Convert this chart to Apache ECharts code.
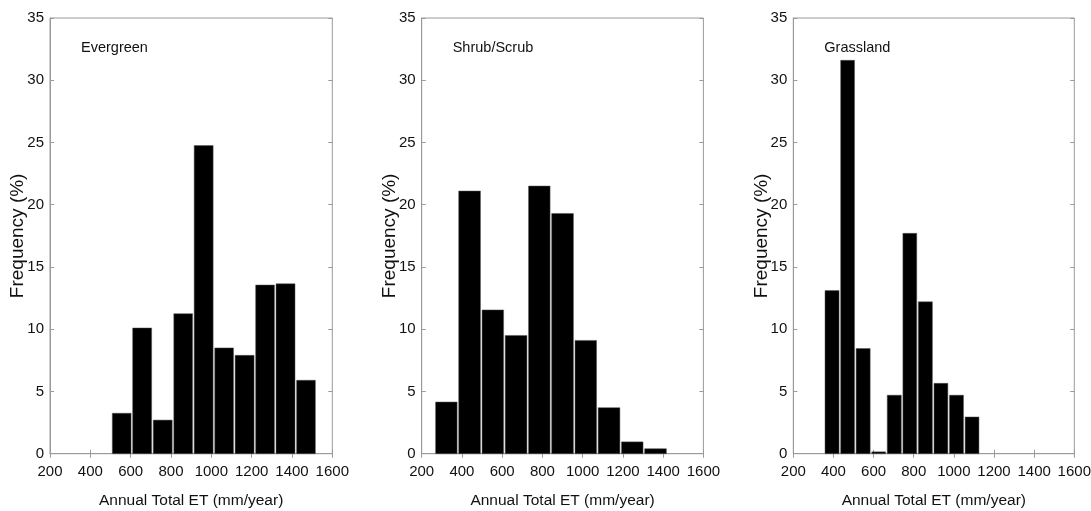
<!DOCTYPE html>
<html>
<head>
<meta charset="utf-8">
<script src="https://cdn.jsdelivr.net/npm/echarts@6/dist/echarts.min.js"></script>
<style>
html,body{margin:0;padding:0;background:#fff;}
#chart{width:1091px;height:511px;}
</style>
</head>
<body>
<div id="chart"></div>
<script>
// ---- data ----
const panelNames = ['Evergreen', 'Shrub/Scrub', 'Grassland'];
const xTicks = [200, 400, 600, 800, 1000, 1200, 1400, 1600];
const yTicks = [0, 5, 10, 15, 20, 25, 30, 35];

const evergreenEdges = [505, 606, 708, 810, 911, 1013, 1114, 1216, 1317, 1419, 1520];
const evergreenFreq  = [3.25, 10.1, 2.7, 11.25, 24.75, 8.5, 7.9, 13.55, 13.65, 5.9];

const shrubEdges = [265, 380, 496, 611, 727, 842, 958, 1073, 1189, 1304, 1420];
const shrubFreq  = [4.15, 21.1, 11.55, 9.5, 21.5, 19.3, 9.1, 3.7, 0.95, 0.4];

const grassEdges = [354, 432, 509, 587, 664, 742, 819, 897, 974, 1052, 1129];
const grassFreq  = [13.1, 31.6, 8.45, 0.15, 4.7, 17.7, 12.2, 5.65, 4.7, 2.95];

const xName = 'Annual Total ET (mm/year)';
const yName = 'Frequency (%)';

// ---- chart ----
const FONT = '"Liberation Sans", Arial, sans-serif';
const gridLefts = [50, 421.7, 793.3];
const gridWidths = [282.3, 281.7, 281];
const gridTop = 18, gridBottomY = 453.7;
const edgesAll = [evergreenEdges, shrubEdges, grassEdges];
const freqAll = [evergreenFreq, shrubFreq, grassFreq];
const AX = '#9a9a9a';

const grids = [], xAxes = [], yAxes = [], series = [], titles = [];
for (let i = 0; i < 3; i++) {
  grids.push({left: gridLefts[i], width: gridWidths[i], top: gridTop, height: gridBottomY - gridTop,
    outerBoundsMode: 'none', containLabel: false,
    show: true, borderColor: AX, borderWidth: 1, backgroundColor: 'transparent'});
  const xmin = xTicks[0], xmax = xTicks[xTicks.length - 1], xint = xTicks[1] - xTicks[0];
  const ymin = yTicks[0], ymax = yTicks[yTicks.length - 1], yint = yTicks[1] - yTicks[0];
  xAxes.push({type: 'value', gridIndex: i, position: 'bottom', min: xmin, max: xmax, interval: xint,
    name: xName, nameLocation: 'middle', nameGap: 39, nameMoveOverlap: false,
    nameTextStyle: {fontFamily: FONT, fontSize: 15.5, color: '#111'},
    axisLine: {show: true, lineStyle: {color: AX, width: 1}},
    axisTick: {show: true, inside: true, length: 4, lineStyle: {color: AX}},
    axisLabel: {show: true, margin: 11, fontFamily: FONT, fontSize: 15, color: '#111',
      showMinLabel: true, showMaxLabel: true, hideOverlap: false,
      formatter: function (v) { return String(v); }},
    splitLine: {show: false}});
  xAxes.push({type: 'value', gridIndex: i, position: 'top', min: xmin, max: xmax, interval: xint,
    axisLine: {show: false}, axisTick: {show: true, inside: true, length: 4, lineStyle: {color: AX}},
    axisLabel: {show: false}, splitLine: {show: false}});
  yAxes.push({type: 'value', gridIndex: i, position: 'left', min: ymin, max: ymax, interval: yint,
    name: yName, nameLocation: 'middle', nameGap: 22.5, nameMoveOverlap: false,
    nameTextStyle: {fontFamily: FONT, fontSize: 19, color: '#111'},
    axisLine: {show: true, lineStyle: {color: AX, width: 1}},
    axisTick: {show: true, inside: true, length: 4, lineStyle: {color: AX}},
    axisLabel: {show: true, margin: 6, fontFamily: FONT, fontSize: 15, color: '#111',
      showMinLabel: true, showMaxLabel: true, hideOverlap: false},
    splitLine: {show: false}});
  yAxes.push({type: 'value', gridIndex: i, position: 'right', min: ymin, max: ymax, interval: yint,
    axisLine: {show: false}, axisTick: {show: true, inside: true, length: 4, lineStyle: {color: AX}},
    axisLabel: {show: false}, splitLine: {show: false}});
  const data = freqAll[i].map((v, k) => [edgesAll[i][k], edgesAll[i][k + 1], v]);
  series.push({type: 'custom', xAxisIndex: 2 * i, yAxisIndex: 2 * i, data: data,
    encode: {x: [0, 1], y: 2},
    renderItem: function (params, api) {
      const p0 = api.coord([api.value(0), api.value(2)]);
      const p1 = api.coord([api.value(1), 0]);
      return {type: 'rect',
        shape: {x: p0[0] + 0.8, y: p0[1], width: p1[0] - p0[0] - 1.6, height: p1[1] - p0[1]},
        style: {fill: '#000', stroke: '#555', lineWidth: 0.5}};
    }});
  titles.push({text: panelNames[i], left: gridLefts[i] + 31, top: 40, padding: 0,
    textStyle: {fontFamily: FONT, fontSize: 14.5, fontWeight: 'normal', color: '#111'}});
}

const chart = echarts.init(document.getElementById('chart'), null, {renderer: 'canvas'});
chart.setOption({
  animation: false,
  backgroundColor: '#fff',
  title: titles,
  grid: grids,
  xAxis: xAxes,
  yAxis: yAxes,
  series: series
});
</script>
</body>
</html>
